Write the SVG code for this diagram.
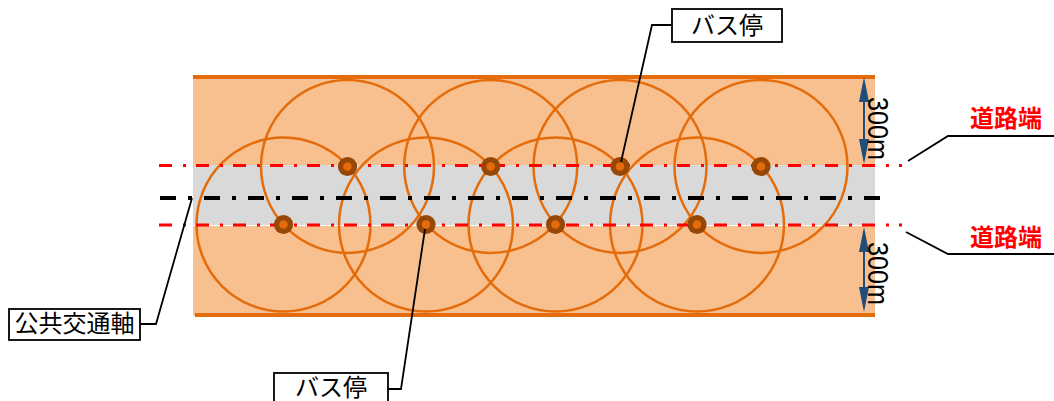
<svg xmlns="http://www.w3.org/2000/svg" width="1054" height="401" viewBox="0 0 1054 401">
<defs>
<style>
.band{fill:#F8BF8F}
.edge{stroke:#E46C0A;stroke-width:4;fill:none}
.road{fill:#D9D9D9}
.circ{fill:none;stroke:#E46C0A;stroke-width:2.5}
.redl{stroke:#FF0000;stroke-width:3;stroke-dasharray:13 11 3 10;fill:none}
.axis{stroke:#000;stroke-width:4;stroke-dasharray:16 12 4 12;fill:none}
.stop-o{fill:#974706}
.stop-i{fill:#E46C0A}
.lead{stroke:#000;stroke-width:1.8;fill:none}
.box{fill:#fff;stroke:#000;stroke-width:1.8}
.lbl{font-family:"Noto Sans CJK JP","Noto Sans",sans-serif;font-size:24px;fill:#000;text-anchor:middle}
.red{font-family:"Noto Sans CJK JP","Noto Sans",sans-serif;font-size:24px;font-weight:bold;fill:#FF0000}
.dim{stroke:#1F4E79;stroke-width:2;fill:none}
.dimt{font-family:"Liberation Sans","Noto Sans",sans-serif;font-size:30px;fill:#000}
</style>
<marker id="ah" viewBox="0 0 25 10" refX="15" refY="5" markerWidth="25" markerHeight="10" markerUnits="userSpaceOnUse" orient="auto-start-reverse">
<path d="M0,0 L25,5 L0,10 Z" fill="#1F4E79"/>
</marker>
</defs>

<g id="corridor">
<rect class="band" x="193" y="75" width="682" height="241"/>
<line class="edge" x1="193" y1="77" x2="875" y2="77"/>
<line class="edge" x1="195" y1="315" x2="875" y2="315"/>
<rect class="road" x="193" y="165" width="682" height="60"/>
<line x1="193" y1="225.5" x2="875" y2="225.5" stroke="#fff" stroke-width="1"/>
</g>

<g id="coverage">
<circle class="circ" cx="347.5" cy="166.5" r="86.5"/>
<circle class="circ" cx="490.7" cy="166.5" r="86.5"/>
<circle class="circ" cx="620" cy="166.5" r="86.5"/>
<circle class="circ" cx="761" cy="166.5" r="86.5"/>
<circle class="circ" cx="283.5" cy="224.5" r="87"/>
<circle class="circ" cx="426" cy="224.5" r="87"/>
<circle class="circ" cx="555.5" cy="224.5" r="87"/>
<circle class="circ" cx="697" cy="224.5" r="87"/>
</g>

<g id="road-lines">
<line class="redl" x1="159" y1="165.5" x2="902" y2="165.5"/>
<line class="redl" x1="159" y1="225" x2="902" y2="225"/>
<line class="axis" x1="160" y1="198" x2="880" y2="198"/>
</g>

<g id="bus-stops">
<g id="stop-t1"><circle class="stop-o" cx="347.5" cy="166.5" r="9.6"/><circle class="stop-i" cx="347.5" cy="166.5" r="4.3"/></g>
<g id="stop-t2"><circle class="stop-o" cx="490.7" cy="166.5" r="9.6"/><circle class="stop-i" cx="490.7" cy="166.5" r="4.3"/></g>
<g id="stop-t3"><circle class="stop-o" cx="620" cy="166.5" r="9.6"/><circle class="stop-i" cx="620" cy="166.5" r="4.3"/></g>
<g id="stop-t4"><circle class="stop-o" cx="761" cy="166.5" r="9.6"/><circle class="stop-i" cx="761" cy="166.5" r="4.3"/></g>
<g id="stop-b1"><circle class="stop-o" cx="283.5" cy="224.5" r="9.6"/><circle class="stop-i" cx="283.5" cy="224.5" r="4.3"/></g>
<g id="stop-b2"><circle class="stop-o" cx="426" cy="224.5" r="9.6"/><circle class="stop-i" cx="426" cy="224.5" r="4.3"/></g>
<g id="stop-b3"><circle class="stop-o" cx="555.5" cy="224.5" r="9.6"/><circle class="stop-i" cx="555.5" cy="224.5" r="4.3"/></g>
<g id="stop-b4"><circle class="stop-o" cx="697" cy="224.5" r="9.6"/><circle class="stop-i" cx="697" cy="224.5" r="4.3"/></g>
</g>

<g id="dimensions">
<line class="dim" x1="864" y1="87" x2="864" y2="154" marker-start="url(#ah)" marker-end="url(#ah)"/>
<line class="dim" x1="864" y1="237" x2="864" y2="302" marker-start="url(#ah)" marker-end="url(#ah)"/>
<text class="dimt" transform="translate(868,97) rotate(90)" textLength="63" lengthAdjust="spacingAndGlyphs">300m</text>
<text class="dimt" transform="translate(868,242) rotate(90)" textLength="63" lengthAdjust="spacingAndGlyphs">300m</text>
</g>

<g id="connectors">
<polyline class="lead" points="672,25 652,25 621,162"/>
<polyline class="lead" points="388,389 401,389 425,229"/>
<polyline class="lead" points="140,324 156,324 192,198"/>
<polyline class="lead" points="908,161 948,136 1054,136"/>
<polyline class="lead" points="906,232 948,254 1054,254"/>
</g>

<g id="label-busstop-top">
<rect class="box" x="672" y="9" width="110" height="33"/>
<text class="lbl" x="727" y="34">バス停</text>
</g>
<g id="label-busstop-bottom">
<rect class="box" x="274" y="373" width="114" height="34"/>
<text class="lbl" x="331" y="396">バス停</text>
</g>
<g id="label-axis">
<rect class="box" x="9" y="309" width="131" height="31"/>
<text class="lbl" x="74.5" y="332">公共交通軸</text>
</g>
<g id="label-roadedge-top">
<text class="red" x="970" y="127">道路端</text>
</g>
<g id="label-roadedge-bottom">
<text class="red" x="970" y="246">道路端</text>
</g>
</svg>
